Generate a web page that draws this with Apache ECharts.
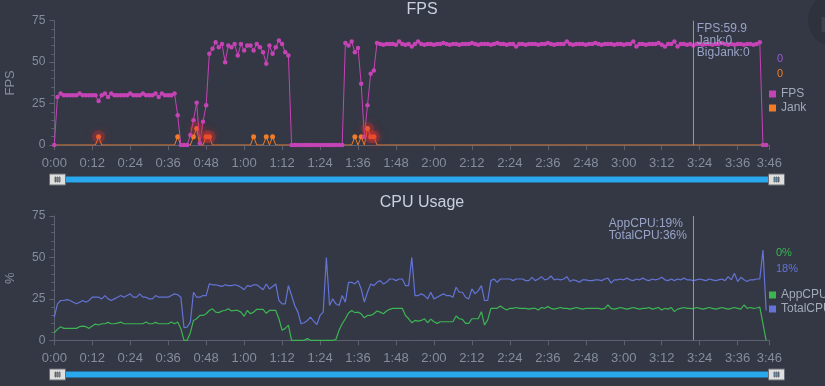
<!DOCTYPE html>
<html><head><meta charset="utf-8">
<script src="https://cdn.jsdelivr.net/npm/echarts@6/dist/echarts.min.js"></script>
<style>html,body{margin:0;padding:0;background:#333844;}#c{width:825px;height:386px;}</style>
</head><body><div id="c"></div>
<script>
// one value per second, index = seconds since start
const fps = [
 0, 29, 31, 30, 30, 30, 30, 30, 31, 30,
 30, 30, 30, 30, 26.5, 30, 31, 29, 31, 30,
 30, 30, 30, 30, 31, 30, 30, 30, 31, 30,
 30, 30, 31, 29, 31, 30, 30, 30, 31, 18,
 0, 0, 0, 6, 15, 25.5, 1, 14, 24, 55,
 58, 62, 59, 61, 50, 60, 59, 61, 54, 61,
 57, 60, 60, 57, 61, 59, 56, 49, 60, 55,
 59, 63, 61, 56, 54, 0, 0, 0, 0, 0,
 0, 0, 0, 0, 0, 0, 0, 0, 0, 0,
 0, 0, 61.5, 60, 62.5, 56, 58.5, 37, 5, 24,
 43, 45, 61.5, 61, 60.5, 61, 61, 61, 60.5, 62.5,
 61, 60.5, 61, 59.5, 61, 62.5, 61, 60.5, 61, 61,
 60.5, 61, 61, 61.5, 61, 60.5, 61, 61, 60.5, 61,
 61, 61, 61.5, 61, 60.5, 61, 61, 61, 60.5, 61,
 61.5, 61, 61, 60.5, 61, 61, 59.5, 61, 61, 60.5,
 61, 61, 61, 60.5, 61, 61, 61.5, 61, 60.5, 61,
 61, 61, 62.5, 61, 60.5, 61, 61, 61, 60.5, 61,
 61, 61.5, 61, 60.5, 61, 61, 61, 60.5, 61, 61,
 60.5, 61, 61, 62.5, 59.5, 61, 61, 60.5, 61, 61,
 61, 61.5, 60.5, 59.5, 61, 61, 62.5, 59.5, 61, 61,
 60.5, 61, 60, 61, 61, 60.5, 61, 61, 60.5, 61,
 61, 61.5, 61, 60.5, 61, 60.5, 61, 61, 60.5, 61,
 61, 60.5, 61, 62, 0, 0
];
const jank = [
 0,0,0,0,0,0,0,0,0,0,
 0,0,0,0,5,0,0,0,0,0,
 0,0,0,0,0,0,0,0,0,0,
 0,0,0,0,0,0,0,0,0,5,
 0,0,0,0,5,10,0,0,5,5,
 0,0,0,0,0,0,0,0,0,0,
 0,0,0,5,0,0,0,5,0,5,
 0,0,0,0,0,0,0,0,0,0,
 0,0,0,0,0,0,0,0,0,0,
 0,0,0,0,0,5,0,5,0,10,
 5,5,0,0,0,0,0,0,0,0,
 0,0,0,0,0,0,0,0,0,0,
 0,0,0,0,0,0,0,0,0,0,
 0,0,0,0,0,0,0,0,0,0,
 0,0,0,0,0,0,0,0,0,0,
 0,0,0,0,0,0,0,0,0,0,
 0,0,0,0,0,0,0,0,0,0,
 0,0,0,0,0,0,0,0,0,0,
 0,0,0,0,0,0,0,0,0,0,
 0,0,0,0,0,0,0,0,0,0,
 0,0,0,0,0,0,0,0,0,0,
 0,0,0,0,0,0,0,0,0,0,
 0,0,0,0,0,0
];
const bigJankSeconds = [14, 45, 48, 49, 99, 100, 101];
const totalCpu = [
 14, 22, 24, 24, 24.5, 24, 23, 22, 23, 24,
 23, 24, 26, 26, 26, 25, 27, 25, 24, 25,
 26, 27, 26, 27, 28, 26, 26, 28, 26, 26,
 25, 25, 27, 26, 26, 26, 26, 27, 28, 27.5,
 26, 7.6, 8, 11, 29, 26, 26, 27, 27, 34,
 33.5, 33.5, 33, 32.5, 33.5, 33, 33, 33.5, 33, 32,
 30.5, 33, 32.5, 33.5, 33.5, 32, 30.5, 34, 31, 32.5,
 34, 24, 22, 22, 33, 27, 21, 17, 10, 10.6,
 12, 14, 11.5, 9.5, 15, 17, 50, 21, 25, 22,
 21, 27, 23, 35, 35, 34, 36, 31, 23, 29,
 34, 33, 35, 36, 34, 35, 37, 37, 36, 37,
 37, 33, 33, 50, 27, 27, 28, 27, 25, 29,
 25, 26, 27, 28, 27, 27, 26, 32, 29, 29,
 26, 25, 31, 28, 30, 33, 24, 24, 36, 37,
 35, 37, 37, 37, 37, 36, 37, 37, 37, 36,
 36, 38, 36, 37, 38.4, 36.5, 37, 38.8, 36.5, 37,
 36.5, 37, 38.4, 35.5, 36.5, 36, 35, 36.5, 36.5, 36,
 36, 36.5, 36.5, 36, 37, 37.5, 34.5, 36.5, 36.5, 37,
 36.5, 37.5, 36.5, 36, 37, 36.5, 37.5, 36.5, 36, 37,
 36.5, 37, 38, 36.5, 36, 37, 36, 37, 36.5, 37.5,
 36.5, 36.5, 36, 36.5, 37, 36.5, 36, 37, 36.5, 36,
 36.5, 37, 36, 38.4, 36.5, 40.4, 35.4, 38, 36.5, 35.5,
 36.5, 36.5, 37, 37, 54.5, 18
];
const appCpu = [
 4.6, 6.6, 8.2, 7.2, 7.2, 7.2, 7.2, 7.2, 8.2, 8.6,
 8.2, 7.2, 8.6, 9.8, 9.2, 10, 10, 10.8, 10, 10,
 10.4, 11, 10, 10, 10, 10, 10, 10, 10, 11,
 10, 10, 10.8, 10, 10, 10, 10, 11, 10, 11,
 7, 0, 0, 4.6, 12, 13, 15, 15, 16, 18,
 19, 17, 16.7, 17.7, 18, 19, 17.7, 18, 18, 17,
 14.5, 18, 16, 17, 18.7, 18.7, 18.7, 16.3, 18, 18,
 18, 13, 6, 7.2, 9.2, 0, 0, 0, 0, 0,
 1, 0, 0, 0, 0, 0, 0, 0, 0, 0.5,
 6, 10, 13, 16.5, 18, 16.7, 17, 16, 13.6, 15,
 15, 16, 17.7, 17, 16, 17.7, 18.7, 19.3, 19.3, 19.3,
 19.3, 15, 13, 10.6, 12, 11.6, 12, 13, 10.6, 12.8,
 11.2, 10.2, 11.2, 11.2, 11.2, 11.2, 11.2, 14.7, 13, 12.6,
 10.2, 10.2, 13, 13, 13, 17.3, 9.2, 12.3, 19.3, 19.3,
 19.3, 20.7, 19.3, 18.3, 19.3, 19.3, 19.8, 19.3, 19.3, 19.3,
 18.8, 19.3, 19.3, 18.3, 19.8, 19.3, 20.3, 19.3, 18.8, 19.3,
 19.8, 19.3, 19.3, 18.8, 19.3, 19.8, 19.3, 18.8, 19.3, 19.3,
 19.3, 19.3, 19.3, 18.8, 19.3, 21.3, 19.3, 18.8, 19.3, 19.8,
 19.3, 18.8, 19.3, 19.8, 19.3, 18.8, 19.3, 19.3, 19.8, 18.8,
 19.3, 19.8, 18.3, 19.3, 18.8, 19.8, 17.3, 18.8, 19.3, 19.8,
 19.3, 19.3, 19, 19.8, 19.3, 18.8, 19.3, 19.8, 19.3, 18.8,
 19.3, 19.8, 19.3, 18.8, 19.3, 19.8, 19.3, 18.8, 21.3, 19.3,
 19.8, 19.3, 19.5, 20, 10, 0
];
const markerSecond = 202;
const fpsTip = ['FPS:59.9', 'Jank:0', 'BigJank:0'];
const cpuTip = ['AppCPU:19%', 'TotalCPU:36%'];
const fpsLatest = ['0', '0'];
const cpuLatest = ['0%', '18%'];
const yTicks = [0, 25, 50, 75];

const C = {
  fps: '#c643b6', jank: '#f07c28', app: '#3db553', total: '#6473d6',
  label: '#858d9d', axis: '#5b6171', title: '#c9d0de', tip: '#98a3c6'
};
const FONT = 'Liberation Sans, Arial, sans-serif';
const fmt = s => Math.floor(s / 60) + ':' + String(Math.round(s % 60)).padStart(2, '0');
const pairs = arr => arr.map((v, i) => [i, v]);

function xAxisCfg(gi) {
  return { type: 'value', gridIndex: gi, min: 0, max: 226, interval: 12,
    axisLine: { show: true, lineStyle: { color: C.axis } },
    axisTick: { show: true, length: 5, lineStyle: { color: C.axis } },
    splitLine: { show: false },
    axisLabel: { color: C.label, fontSize: 13, margin: 12, formatter: fmt } };
}
function yAxisCfg(gi, name) {
  return { type: 'value', gridIndex: gi, min: yTicks[0], max: yTicks[yTicks.length - 1], interval: yTicks[1] - yTicks[0],
    name: name, nameLocation: 'middle', nameGap: 37, nameTextStyle: { color: C.label, fontSize: 13 },
    axisLine: { show: true, lineStyle: { color: C.axis } },
    axisTick: { show: true, length: 5, lineStyle: { color: C.axis } },
    minorTick: { show: true, splitNumber: 5, length: 3, lineStyle: { color: C.axis } },
    splitLine: { show: false },
    axisLabel: { color: C.label, fontSize: 12, margin: 9 } };
}
const handleIcon = 'path://M0,0H16V11H0Z M5.5,3V8H6.5V3Z M7.5,3V8H8.5V3Z M9.5,3V8H10.5V3Z';
function slider(idx, top) {
  const hs = { color: '#dedede', borderColor: '#6a6e75', borderWidth: 1 };
  return { type: 'slider', xAxisIndex: idx, start: 0, end: 100, left: 55, width: 721, top: top, height: 6,
    showDetail: false, showDataShadow: false, brushSelect: false, moveHandleSize: 0, filterMode: 'none',
    borderColor: 'transparent', backgroundColor: '#2b2f39', fillerColor: '#29a8ee',
    handleIcon: handleIcon, handleSize: 16, handleStyle: hs, emphasis: { handleStyle: hs } };
}
function markLineCfg() {
  return { silent: true, symbol: ['none', 'none'], label: { show: false },
    lineStyle: { color: '#8c96b3', width: 1, type: 'solid' }, data: [{ xAxis: markerSecond }] };
}
function markPointCfg(text, pos) {
  return { silent: true, symbol: 'rect', symbolSize: 1, itemStyle: { color: 'rgba(0,0,0,0)' },
    label: { show: true, position: pos, formatter: text, color: C.tip, fontSize: 12, lineHeight: 12,
      align: 'left', verticalAlign: 'top', fontFamily: FONT },
    data: [{ coord: [markerSecond, yTicks[yTicks.length - 1]] }] };
}

const chart = echarts.init(document.getElementById('c'));
chart.setOption({
  backgroundColor: '#333844',
  animation: false,
  textStyle: { fontFamily: FONT },
  title: [
    { text: 'FPS', left: 422, top: 2, padding: 0, textAlign: 'center', textStyle: { color: C.title, fontSize: 16, fontWeight: 'normal' } },
    { text: 'CPU Usage', left: 422, top: 195, padding: 0, textAlign: 'center', textStyle: { color: C.title, fontSize: 16, fontWeight: 'normal' } }
  ],
  legend: [
    { data: ['FPS', 'Jank'], orient: 'vertical', left: 769, top: 88, padding: 0, itemGap: 2, itemWidth: 7, itemHeight: 7,
      icon: 'rect', textStyle: { color: '#a3a9b8', fontSize: 12 } },
    { data: ['AppCPU', 'TotalCPU'], orient: 'vertical', left: 769, top: 289, padding: 0, itemGap: 2, itemWidth: 7, itemHeight: 7,
      icon: 'rect', textStyle: { color: '#a3a9b8', fontSize: 12 } }
  ],
  grid: [
    { left: 54.3, top: 20.7, width: 715, height: 124.3, containLabel: false, outerBoundsMode: 'none' },
    { left: 54.3, top: 216, width: 715, height: 124.3, containLabel: false, outerBoundsMode: 'none' }
  ],
  xAxis: [xAxisCfg(0), xAxisCfg(1)],
  yAxis: [yAxisCfg(0, 'FPS'), yAxisCfg(1, '%')],
  dataZoom: [slider(0, 176.5), slider(1, 371.5)],
  graphic: [
    { type: 'circle', shape: { cx: 835, cy: 20, r: 27 }, style: { fill: '#2e323d' }, silent: true },
    { type: 'rect', shape: { x: 821.5, y: 17, width: 3.5, height: 15 }, style: { fill: '#3c414d' }, silent: true },
    { type: 'text', x: 777, y: 58.5, style: { text: fpsLatest[0], fill: '#9b59d6', fontSize: 11, fontFamily: FONT, verticalAlign: 'middle' } },
    { type: 'text', x: 777, y: 73.5, style: { text: fpsLatest[1], fill: C.jank, fontSize: 11, fontFamily: FONT, verticalAlign: 'middle' } },
    { type: 'text', x: 776, y: 253, style: { text: cpuLatest[0], fill: C.app, fontSize: 11, fontFamily: FONT, verticalAlign: 'middle' } },
    { type: 'text', x: 776, y: 268.5, style: { text: cpuLatest[1], fill: C.total, fontSize: 11, fontFamily: FONT, verticalAlign: 'middle' } }
  ],
  series: [
    { name: 'Jank', type: 'line', xAxisIndex: 0, yAxisIndex: 0, data: pairs(jank), z: 2,
      symbol: 'circle', symbolSize: v => (v[1] > 0 ? 5 : 0), showAllSymbol: true,
      lineStyle: { width: 1, color: C.jank }, itemStyle: { color: C.jank } },
    { name: 'FPS', type: 'line', xAxisIndex: 0, yAxisIndex: 0, data: pairs(fps), z: 3,
      symbol: 'circle', symbolSize: 4.5, showAllSymbol: true,
      lineStyle: { width: 1, color: C.fps }, itemStyle: { color: C.fps },
      markLine: markLineCfg(), markPoint: markPointCfg(fpsTip.join('\n'), [4, 2]) },
    { name: 'BigJank', type: 'scatter', xAxisIndex: 0, yAxisIndex: 0, z: 4,
      data: bigJankSeconds.map(s => [s, jank[s]]), symbolSize: 13,
      itemStyle: { color: 'rgba(225,50,50,0.35)', shadowBlur: 10, shadowColor: 'rgba(255,40,40,0.7)' } },
    { name: 'AppCPU', type: 'line', xAxisIndex: 1, yAxisIndex: 1, data: pairs(appCpu), showSymbol: false,
      lineStyle: { width: 1.2, color: C.app }, itemStyle: { color: C.app },
      markLine: markLineCfg(), markPoint: markPointCfg(cpuTip.join('\n'), [-84, 2]) },
    { name: 'TotalCPU', type: 'line', xAxisIndex: 1, yAxisIndex: 1, data: pairs(totalCpu), showSymbol: false,
      lineStyle: { width: 1.2, color: C.total }, itemStyle: { color: C.total } }
  ]
});
</script></body></html>
